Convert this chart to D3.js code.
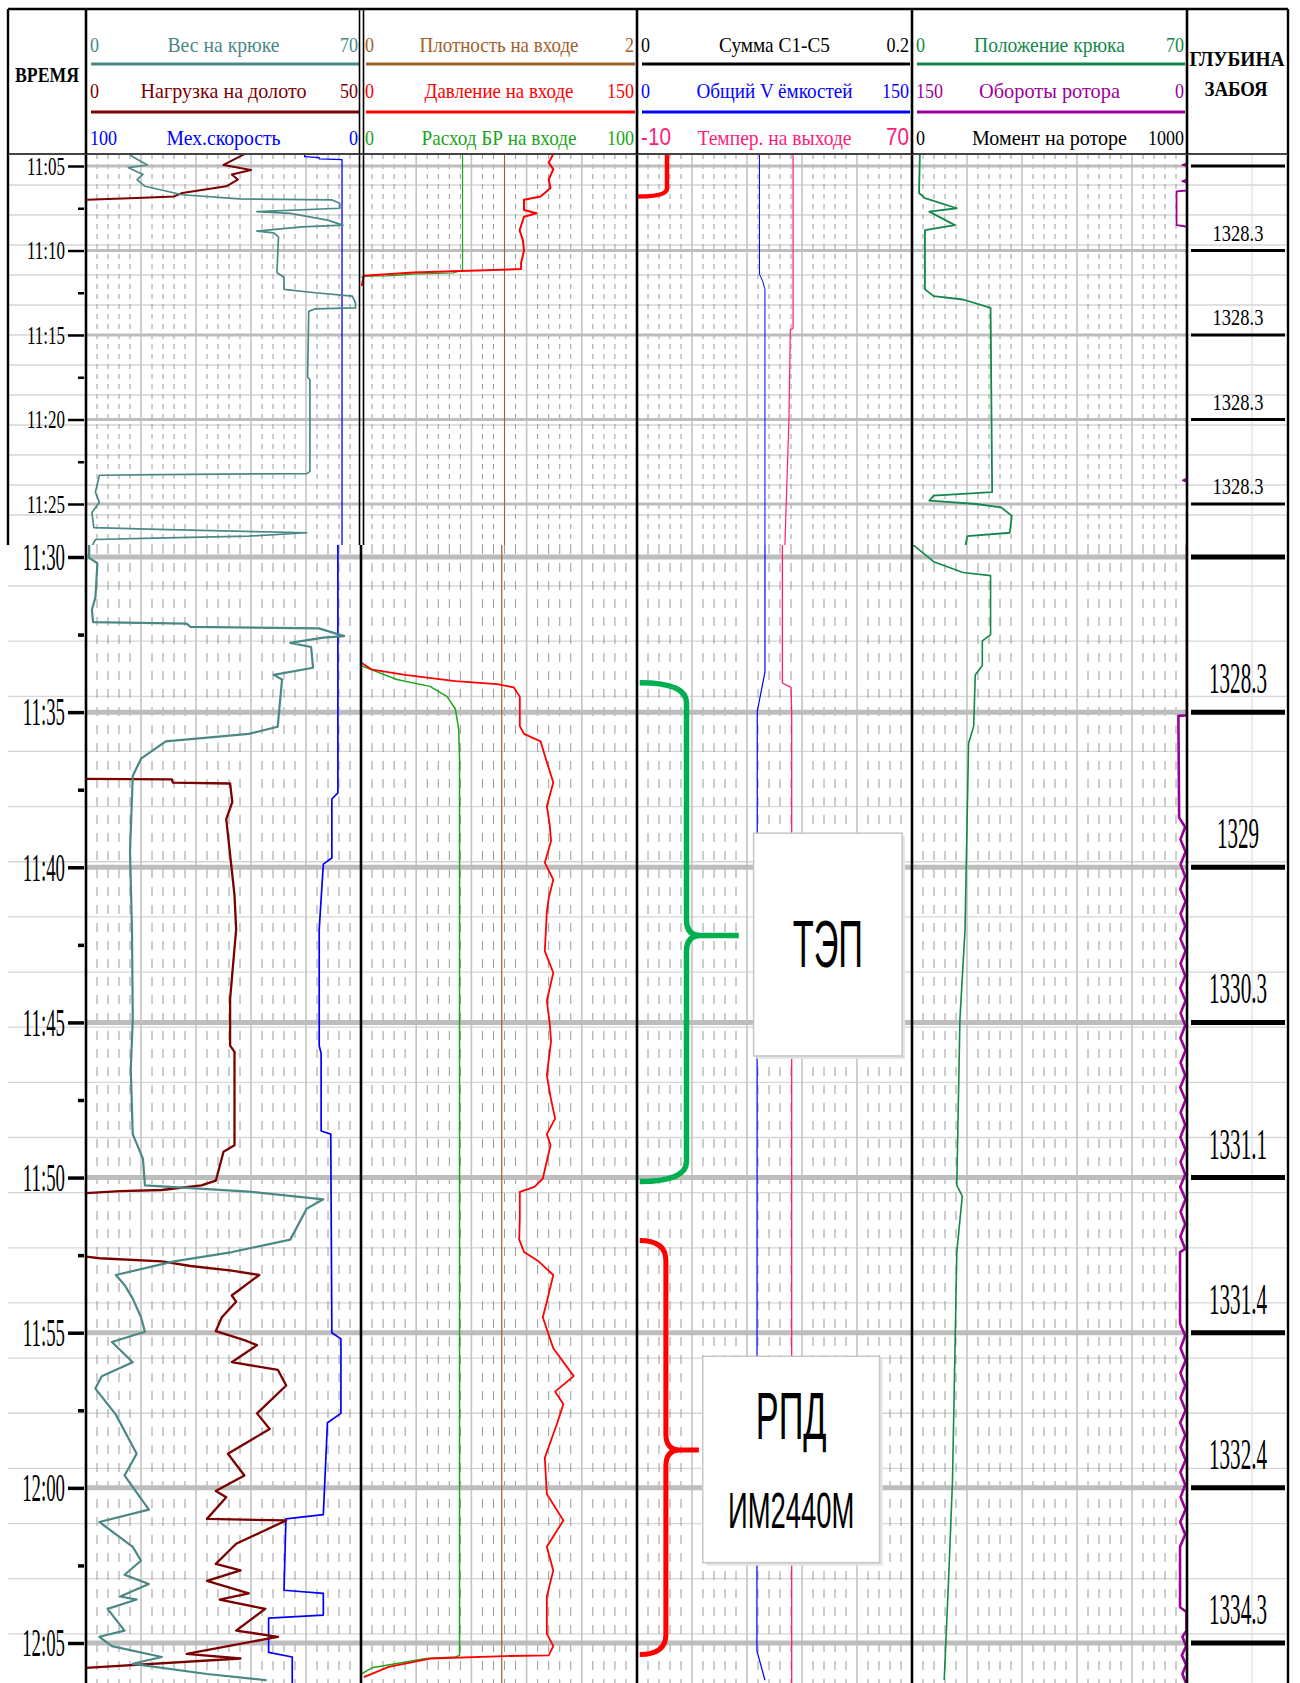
<!DOCTYPE html>
<html>
<head>
<meta charset="utf-8">
<script src="https://cdn.jsdelivr.net/npm/d3@7"></script>
<style>
  body { margin: 0; background: #fff; }
  svg { display: block; }
</style>
</head>
<body>
<script>
// ---- data: minutes after 11:00, value (null = gap) ----
const upperTimeLabels = ["11:05", "11:10", "11:15", "11:20", "11:25"];
const lowerTimeLabels = ["11:30", "11:35", "11:40", "11:45", "11:50", "11:55", "12:00", "12:05"];
const upperDepths = ["", "1328.3", "1328.3", "1328.3", "1328.3"];
const lowerDepths = ["", "1328.3", "1329", "1330.3", "1331.1", "1331.4", "1332.4", "1334.3"];

const headerNames = [
  ["Вес на крюке", "Нагрузка на долото", "Мех.скорость"],
  ["Плотность на входе", "Давление на входе", "Расход БР на входе"],
  ["Сумма C1-C5", "Общий V ёмкостей", "Темпер. на выходе"],
  ["Положение крюка", "Обороты ротора", "Момент на роторе"]
];
const headerMin = [["0", "0", "100"], ["0", "0", "0"], ["0", "0", "-10"], ["0", "150", "0"]];
const headerMax = [["70", "50", "0"], ["2", "150", "100"], ["0.2", "150", "70"], ["70", "0", "1000"]];

const vesNaKryuke = [[4.3,11],[4.47,12],[4.94,15.6],[5.1,10.8],[5.5,14.5],[5.8,13],[6.2,15],[6.7,24.5],[6.95,39],[7.0,62.5],[7.2,64.6],[7.5,64.6],[7.7,43.5],[7.8,52],[8.2,61.5],[8.5,65.4],[8.6,55],[8.85,43.5],[8.96,47.8],[9.2,49],[11.3,48.6],[11.6,50.4],[12.3,50.4],[12.5,58.3],[12.7,67.8],[13.1,68.6],[13.4,68.6],[13.45,58.3],[13.6,56.7],[17.5,56.4],[17.65,57],[23.07,57],[23.2,56.2],[23.26,18.2],[23.3,3.4],[24.3,2.4],[24.9,3.4],[25.5,1.5],[26.4,2],[26.5,18.2],[26.7,56.2],[26.9,41.4],[27.0,20.3],[27.1,2.4],[27.6,1.3],
  [29.5,0.8],[30.03,0.8],[30.2,2.9],[31.3,2.4],[31.7,1.5],[32.1,1.8],[32.15,25.6],[32.25,26.6],[32.3,59.3],[32.55,65.7],[32.6,60.4],[32.77,52],[32.9,57.3],[33.57,57.8],[33.8,47.8],[33.95,49.9],[35.47,48.8],[35.7,41.4],[35.94,20.3],[36.5,14],[37.06,11.9],[39.5,11.2],[42,11.7],[44.9,11.9],[46.5,11.4],[48.6,11.9],[49.4,14.5],[50.25,15],[50.45,41.4],[50.7,60.4],[51.0,56.2],[52.0,52],[52.4,37.2],[52.7,22.4],[53.14,7.6],[53.46,9.8],[53.9,11.9],[54.5,14],[54.97,15],[55.3,6.6],[55.95,11.9],[56.4,4],[56.8,2.4],[57.64,7.6],[58.9,12.9],[59.6,9.8],[60.7,16],[61.1,3.4],[61.9,11.9],[62.35,14],[62.8,9.8],[63.1,16],[63.5,8.7],[63.6,12.9],[63.9,5.5],[64.6,9.8],[64.8,3.4],[65.1,6.6],[65.45,19.3],[65.67,11.9],[66.0,30.8],[66.2,46]];

const nagruzkaNaDoloto = [[4.3,28.8],[4.94,25],[5.24,30],[5.5,26.5],[5.8,27.6],[6.2,25.5],[6.6,17.5],[6.8,16],[6.9,9.2],[7.0,0.2],[7.1,null],
  [37.15,0],[37.17,15.6],[37.27,15.8],[37.3,26.2],[37.9,26.6],[38.45,25.5],[40.9,27],[42,27.3],[44.25,26.2],[45.75,26.2],[45.95,27],[48.96,27],[49.17,25],[50.1,23.6],[50.25,21],[50.4,13.8],[50.44,6.2],[50.5,0],[50.55,null],
  [52.55,0],[52.6,2.5],[52.7,13.8],[52.85,19],[53.0,26.5],[53.14,31.5],[53.8,26.5],[54.0,27.3],[54.5,24.7],[54.95,23.6],[55.24,28.8],[55.4,31.1],[55.95,26.5],[56.2,34.9],[56.7,36.4],[57.6,31.1],[58.1,33.4],[58.9,25.8],[59.6,28.8],[60.1,23.6],[60.3,25.5],[61.0,22],[61.05,36.4],[61.8,27.3],[62.45,23.6],[62.66,28.1],[63.0,22],[63.4,29.6],[63.6,24.3],[63.9,32.6],[64.6,27.3],[64.8,34.9],[65.35,18.3],[65.5,28.1],[65.8,0]];

const mehSkorost = [[4.3,20.5],[4.45,20.5],[4.5,15.2],[4.58,15.2],[4.62,6.9],[27.6,6.9],[29.5,8.4],[37.6,8.4],[37.8,10.6],[39.7,10.6],[39.9,13.7],[42,15.2],[45.75,15.2],[46,14.5],[48.5,14.5],[48.6,11],[55.0,10.6],[55.2,7.3],[57.6,7.3],[57.9,12.2],[60.86,13.7],[61.0,27.3],[63.3,28],[63.4,13.7],[64.1,13.7],[64.2,33.6],[65.3,33.6],[65.45,25],[66.3,25]];

const plotnostNaVhode = [[4.3,1.04],[27.6,1.04],[29.5,1.02],[66.3,1.02]];

const davlenieNaVhode = [[4.3,104.5],[4.8,102],[5.2,104.5],[5.8,102],[6.3,103],[6.8,97.6],[7.0,88.6],[7.6,88.6],[7.8,95.4],[8.0,88.6],[8.8,86.2],[9.4,88],[10.0,88.6],[10.74,87],[11.1,87],[11.15,71.7],[11.3,28.7],[11.5,1.5],[12.1,0.4],[12.2,null],
  [33.4,0],[33.63,6],[33.8,24],[34.0,51.3],[34.1,73.9],[34.2,83],[34.5,86.3],[35.45,86.3],[35.7,88.6],[35.94,97.6],[36.4,99.9],[36.8,102],[37.27,104.5],[38.03,101],[38.6,102.5],[39.15,103.3],[39.85,99.9],[40.4,104.5],[41.0,102],[41.45,101],[42.7,99.9],[43.4,104.5],[44.3,101],[45.0,102.5],[45.6,103.3],[46.7,101],[47.4,103],[48.1,105.5],[48.6,101],[48.96,103],[50.03,98.8],[50.3,94.3],[50.46,86.3],[51.3,86.3],[52.0,86],[52.4,88.6],[52.7,96.5],[53.14,104.5],[54.0,101],[54.5,98.8],[55.5,104.5],[56.4,115.6],[56.9,105.5],[57.3,110],[57.9,106.7],[59.03,99.9],[60.2,101],[61.05,110],[61.9,101],[62.66,104.5],[63.5,101],[64.7,101],[65.1,104.5],[65.4,102],[65.42,78.5],[65.5,37.7],[65.77,15.1],[66.1,1.5]];

const rashodNaVhode = [[4.3,36.8],[11.15,36.8],[11.33,33.4],[11.4,19],[11.5,10],[11.52,1],[11.6,0],[11.7,null],
  [33.5,0],[33.95,13],[34.17,25],[34.5,31.2],[34.9,34.2],[35.55,35.4],[36.5,35.7],[65.4,35.7],[65.45,34.2],[65.5,23.6],[65.8,4],[66.0,0]];

const obshiyVEmkostey = [[4.3,66.8],[11.4,66.8],[11.8,68.5],[12.3,69.8],[27.6,69.8],[29.5,69.8],[33.7,69.8],[34.4,67.5],[34.97,65.6],[65.25,65.4],[66.2,69.8]];

const temperNaVyhode = [[4.3,35.4],[14.6,35.4],[14.7,34.6],[20,34.2],[27.6,33],[29.5,32.3],[34.06,32.3],[34.2,34.8],[35,35],[66.3,35]];

const polozhenieKryuka = [[4.3,2],[6.6,1.8],[6.9,3.3],[7.5,11.4],[7.7,4.4],[8.5,10.9],[8.8,3.3],[12.3,3.3],[12.7,5.5],[12.9,13],[13.4,20],[24.15,20.4],[24.3,20.4],[24.5,5.5],[24.8,4.4],[25.0,16.3],[25.2,22.7],[25.7,25.4],[26.7,24.9],[26.9,14.1],[27.6,13.5],
  [29.6,0.2],[30.15,5.5],[30.5,13],[30.6,20],[32.5,20],[32.7,17.9],[33.5,17.9],[33.8,16.1],[35.45,15.7],[36.0,14.4],[42,13.5],[44.9,12.2],[50.25,11.4],[50.6,12.8],[52.4,11.4],[54.5,11.1],[59.8,10.3],[63.0,9.3],[66.2,8.2]];

const oborotyRotora = [[4.3,0],[4.85,0],[4.94,2.5],[5.0,0],[5.8,0],[5.9,2.5],[6.0,0],[6.45,0],[6.5,5.7],[8.5,5.7],[8.55,2.2],[8.6,0],[23.5,0],[23.6,2.2],[23.7,0],[27.6,0],
  [29.5,0],[35.1,0],[35.12,4.7],[38.4,4.3],[38.7,1],[39.1,3.6],[39.5,0.8],[39.9,3.5],[40.3,1],[40.7,3.7],[41.1,0.8],[41.5,3.5],[41.9,1],[42.3,3.6],[42.7,0.8],[43.1,3.5],[43.5,1],[43.9,3.7],[44.3,0.8],[44.7,3.5],[45.1,1],[45.5,3.6],[45.9,0.8],[46.3,3.5],[46.7,1],[47.1,3.7],[47.5,0.8],[47.9,3.5],[48.3,1],[48.7,3.6],[49.1,0.8],[49.5,3.5],[49.9,1],[50.3,3.7],[50.7,0.8],[51.1,3.5],[51.5,1],[51.9,3.6],[52.3,1],[52.4,3.8],[54.7,3.8],
  [55.1,1],[55.5,3.5],[55.9,0.8],[56.3,3.6],[56.7,1],[57.1,3.5],[57.5,0.8],[57.9,3.7],[58.3,1],[58.7,3.5],[59.1,0.8],[59.5,3.6],[59.9,1],[60.3,3.5],[60.7,0.8],[61.1,3.7],[61.5,1],[61.9,3.8],[63.85,3.8],[64.0,0.3],[64.6,0.3],[64.8,2.5],[65.1,0.5],[65.4,2.8],[65.7,0.5],[66.0,2.5],[66.3,0.5]];

// annotations (minutes): start, cusp, end
const tepBracket = [34.05, 42.2, 50.13];
const rpdBracket = [52.03, 58.78, 65.37];
const rpdTailUpper = [3.5, 6.8];
const tepBox = [38.9, 46.08];
const rpdBox = [55.76, 62.41];

// ---- colours ----
const teal = "#4a8886", maroon = "#7b0000", blue = "#0000ff", brown = "#a0602a",
  red = "#ff0000", green = "#1aa51a", pink = "#ff1a7a", green2 = "#13884a", purple = "#9b009b";
const headerColors = [[teal, maroon, blue], [brown, red, green], ["#000", blue, pink], [green2, purple, "#000"]];
const headerWidths = [[112, 166, 114], [159, 149, 155], [111, 156, 154], [151, 141, 155]];

const series = [
  {data: plotnostNaVhode, track: 1, domain: [0, 2], color: brown, w: [1.1, 1.2]},
  {data: rashodNaVhode, track: 1, domain: [0, 100], color: green, w: [1.2, 1.5]},
  {data: davlenieNaVhode, track: 1, domain: [0, 150], color: red, w: [2, 1.8]},
  {data: mehSkorost, track: 0, domain: [100, 0], color: blue, w: [1.3, 1.7]},
  {data: nagruzkaNaDoloto, track: 0, domain: [0, 50], color: maroon, w: [2, 2.3]},
  {data: vesNaKryuke, track: 0, domain: [0, 70], color: teal, w: [1.7, 2.2]},
  {data: obshiyVEmkostey, track: 2, domain: [0, 150], color: blue, w: [1, 1.2]},
  {data: temperNaVyhode, track: 2, domain: [-10, 70], color: pink, w: [1.2, 1.3]},
  {data: polozhenieKryuka, track: 3, domain: [0, 70], color: green2, w: [1.8, 1.6]},
  {data: oborotyRotora, track: 3, domain: [150, 0], color: purple, w: [1.8, 2.6]}
];

// ---- layout ----
const W = 1300, H = 1683;
const edges = [86, 361, 637, 912, 1187];
const leftX = 8, rightX = 1288;
const headTop = 9, headBot = 154, split = 545;
const serif = "'Liberation Serif', 'DejaVu Serif', serif";
const sans = "'Liberation Sans', Arial, sans-serif";

const minutes = s => { const [h, m] = s.split(":").map(Number); return (h - 11) * 60 + m; };

// horizontal squeeze through a transform, so the box stays where the glyphs are
function squeeze(sel, k) {
  sel.each(function () {
    const t = d3.select(this);
    const x = +t.attr("x") || 0, y = +t.attr("y") || 0;
    t.attr("x", 0).attr("y", 0).attr("transform", `translate(${x},${y}) scale(${k},1)`);
  });
}

const svg = d3.select("body").append("svg").attr("width", W).attr("height", H)
  .style("font-family", serif);
const defs = svg.append("defs");

const panels = [
  {id: "lo", top: split, bot: H, y: d3.scaleLinear().domain([30, 65]).range([557, 1643]),
   labels: lowerTimeLabels, depths: lowerDepths, dash: "9,9", gridW: 5, depthW: 5,
   tf: 40, tk: 0.47, df: 44, dk: 0.48, dOff: 19, rows: d3.range(586, H, 55.15), si: 1},
  {id: "up", top: headBot, bot: split, y: d3.scaleLinear().domain([5, 25]).range([166, 504]),
   labels: upperTimeLabels, depths: upperDepths, dash: "5,5", gridW: 3, depthW: 3,
   tf: 25, tk: 0.68, df: 24, dk: 0.77, dOff: 10, rows: d3.range(185, split, 30), si: 0}
];

const t3 = d3.scaleLinear().domain([0, 1]).range([edges[2], edges[3]]);

function bracePath(x0, xv, xTip, yA, yM, yB) {
  const r = 20, r2 = 16;
  return `M${x0},${yA} Q${xv},${yA} ${xv},${yA + r} L${xv},${yM - r2} Q${xv},${yM} ${xv + 14},${yM} L${xTip},${yM}` +
    ` M${xv + 14},${yM} Q${xv},${yM} ${xv},${yM + r2} L${xv},${yB - r} Q${xv},${yB} ${x0},${yB}`;
}

function box(g, y, span, f0, f1, lines) {
  const x0 = t3(f0), x1 = t3(f1), y0 = y(span[0]), y1 = y(span[1]);
  g.append("rect").attr("x", x0 + 3).attr("y", y0 + 3).attr("width", x1 - x0).attr("height", y1 - y0)
    .attr("fill", "#e4e4e4");
  g.append("rect").attr("x", x0).attr("y", y0).attr("width", x1 - x0).attr("height", y1 - y0)
    .attr("fill", "#fff").attr("stroke", "#c6c6c6").attr("stroke-width", 1.5);
  lines.forEach(l => {
    g.append("text").attr("x", (x0 + x1) / 2).attr("y", y0 + (y1 - y0) * l.at)
      .attr("text-anchor", "middle").attr("font-family", sans).attr("font-size", l.size)
      .text(l.text).call(squeeze, l.k);
  });
}

panels.forEach(p => {
  const g = svg.append("g");
  defs.append("clipPath").attr("id", "clip-" + p.id).append("rect")
    .attr("x", edges[0]).attr("y", p.top).attr("width", edges[4] - edges[0]).attr("height", p.bot - p.top);

  g.append("rect").attr("x", 0).attr("y", p.top).attr("width", W).attr("height", p.bot - p.top).attr("fill", "#fff");

  // spreadsheet rows
  g.selectAll(".row").data(p.rows).join("line")
    .attr("x1", leftX).attr("x2", rightX).attr("y1", d => d).attr("y2", d => d)
    .attr("stroke", "#d6d6d6").attr("stroke-width", 1.3);
  g.append("line").attr("x1", 1252).attr("x2", 1252).attr("y1", p.top).attr("y2", p.bot)
    .attr("stroke", "#dcdcdc").attr("stroke-width", 1.2);

  // track grids
  for (let i = 0; i < 4; i++) {
    const gx = d3.scaleLinear().domain([0, 25]).range([edges[i], edges[i + 1]]);
    const ks = d3.range(1, 25);
    g.selectAll(null).data(ks).join("line")
      .attr("x1", d => gx(d)).attr("x2", d => gx(d)).attr("y1", p.top).attr("y2", p.bot)
      .attr("stroke", d => d % 5 ? "#9a9a9a" : "#c4c4c4")
      .attr("stroke-width", d => d % 5 ? 1 : 1.6)
      .attr("stroke-dasharray", d => d % 5 ? p.dash : null);
  }

  const times = p.labels.map(minutes);
  g.selectAll(null).data(times).join("line")
    .attr("x1", edges[0]).attr("x2", edges[4]).attr("y1", d => p.y(d)).attr("y2", d => p.y(d))
    .attr("stroke", "#bdbdbd").attr("stroke-width", p.gridW);

  // curves
  const cg = g.append("g").attr("clip-path", `url(#clip-${p.id})`);
  series.forEach(s => {
    const x = d3.scaleLinear().domain(s.domain).range([edges[s.track], edges[s.track + 1]]);
    const line = d3.line().defined(d => d[1] != null).x(d => x(d[1])).y(d => p.y(d[0]));
    cg.append("path").attr("d", line(s.data)).attr("fill", "none")
      .attr("stroke", s.color).attr("stroke-width", s.w[p.si]).attr("stroke-linejoin", "round");
  });

  // annotations
  if (p.id === "lo") {
    const y = p.y;
    cg.append("path").attr("d", bracePath(t3(0.01), t3(0.18), t3(0.37), y(tepBracket[0]), y(tepBracket[1]), y(tepBracket[2])))
      .attr("fill", "none").attr("stroke", "#00b050").attr("stroke-width", 5.5);
    cg.append("path").attr("d", bracePath(t3(0.01), t3(0.105), t3(0.225), y(rpdBracket[0]), y(rpdBracket[1]), y(rpdBracket[2])))
      .attr("fill", "none").attr("stroke", red).attr("stroke-width", 5);
    box(cg, y, tepBox, 0.424, 0.964, [{text: "ТЭП", size: 66, k: 0.52, at: 0.6}]);
    box(cg, y, rpdBox, 0.239, 0.882, [{text: "РПД", size: 66, k: 0.52, at: 0.4}, {text: "ИМ2440М", size: 49, k: 0.56, at: 0.83}]);
  } else {
    const y = p.y, xv = t3(0.109), x0 = t3(0.004), yB = y(rpdTailUpper[1]);
    cg.append("path").attr("d", `M${xv},${y(rpdTailUpper[0])} L${xv},${yB - 8} Q${xv},${yB} ${x0},${yB}`)
      .attr("fill", "none").attr("stroke", red).attr("stroke-width", 4.5);
  }

  // borders
  edges.forEach((e, i) => {
    if (i === 1 && p.id === "up") {
      [e - 1.5, e + 2.5].forEach(xx => g.append("line").attr("x1", xx).attr("x2", xx)
        .attr("y1", p.top).attr("y2", p.bot).attr("stroke", "#000").attr("stroke-width", 1.6));
    } else {
      g.append("line").attr("x1", e).attr("x2", e).attr("y1", p.top).attr("y2", p.bot)
        .attr("stroke", "#000").attr("stroke-width", 2.6);
    }
  });
  g.append("line").attr("x1", rightX).attr("x2", rightX).attr("y1", p.top).attr("y2", p.bot)
    .attr("stroke", "#000").attr("stroke-width", 2.4);
  if (p.id === "up") {
    g.append("line").attr("x1", leftX).attr("x2", leftX).attr("y1", p.top).attr("y2", p.bot)
      .attr("stroke", "#000").attr("stroke-width", 2.4);
  }

  // time axis
  const ax = g.append("g").attr("transform", `translate(${edges[0] - 2},0)`)
    .call(d3.axisLeft(p.y).tickValues(times).tickFormat((d, i) => p.labels[i]).tickSize(16).tickPadding(3));
  ax.select(".domain").remove();
  ax.selectAll("line").attr("stroke", "#000").attr("stroke-width", p.id === "lo" ? 3.5 : 2.5);
  ax.selectAll("text").attr("font-family", serif).attr("font-size", p.tf).attr("fill", "#000").call(squeeze, p.tk);
  const minor = times.map(t => t + 2.5).filter(t => p.y(t) < p.bot - 3);
  const ax2 = g.append("g").attr("transform", `translate(${edges[0] - 2},0)`)
    .call(d3.axisLeft(p.y).tickValues(minor).tickFormat("").tickSize(6));
  ax2.select(".domain").remove();
  ax2.selectAll("line").attr("stroke", "#000").attr("stroke-width", p.id === "lo" ? 3.5 : 2.5);

  // depth column
  g.selectAll(null).data(times).join("line")
    .attr("x1", 1191).attr("x2", 1285).attr("y1", d => p.y(d)).attr("y2", d => p.y(d))
    .attr("stroke", "#000").attr("stroke-width", p.depthW);
  g.selectAll(null).data(times.filter((d, i) => p.depths[i] !== "")).join("text")
    .attr("x", 1238).attr("y", d => p.y(d) - p.dOff).attr("text-anchor", "middle")
    .attr("font-size", p.df).text(d => p.depths[times.indexOf(d)])
    .call(squeeze, p.dk);
});

// ---- header ----
const hg = svg.append("g");
hg.append("rect").attr("x", 0).attr("y", 0).attr("width", W).attr("height", headBot).attr("fill", "#fff");
const rowBase = [52, 98, 145], rowLine = [64, 112];
headerNames.forEach((names, i) => {
  const L = edges[i], R = edges[i + 1], cx = (L + R) / 2;
  names.forEach((n, r) => {
    const c = headerColors[i][r];
    hg.append("text").attr("x", cx).attr("y", rowBase[r]).attr("text-anchor", "middle")
      .attr("font-size", 22).attr("fill", c)
      .attr("textLength", headerWidths[i][r]).attr("lengthAdjust", "spacingAndGlyphs").text(n);
    const isSans = i === 2 && r === 2;
    hg.append("text").attr("x", L + 4).attr("y", rowBase[r]).attr("font-size", isSans ? 23 : 22)
      .attr("font-family", isSans ? sans : serif).attr("fill", c).text(headerMin[i][r]).call(squeeze, isSans ? 0.9 : 0.82);
    hg.append("text").attr("x", R - 3).attr("y", rowBase[r]).attr("text-anchor", "end").attr("font-size", isSans ? 23 : 22)
      .attr("font-family", isSans ? sans : serif).attr("fill", c).text(headerMax[i][r]).call(squeeze, isSans ? 0.9 : 0.82);
    if (r < 2) {
      hg.append("line").attr("x1", L + 5).attr("x2", R - 2).attr("y1", rowLine[r]).attr("y2", rowLine[r])
        .attr("stroke", c).attr("stroke-width", 3);
    }
  });
});
hg.append("text").attr("x", 47).attr("y", 82).attr("text-anchor", "middle").attr("font-weight", "bold")
  .attr("font-size", 21).attr("textLength", 64).attr("lengthAdjust", "spacingAndGlyphs").text("ВРЕМЯ");
hg.append("text").attr("x", 1237).attr("y", 66).attr("text-anchor", "middle").attr("font-weight", "bold")
  .attr("font-size", 21).attr("textLength", 95).attr("lengthAdjust", "spacingAndGlyphs").text("ГЛУБИНА");
hg.append("text").attr("x", 1236).attr("y", 96).attr("text-anchor", "middle").attr("font-weight", "bold")
  .attr("font-size", 21).attr("textLength", 63).attr("lengthAdjust", "spacingAndGlyphs").text("ЗАБОЯ");

// header frame
hg.append("line").attr("x1", leftX).attr("x2", rightX).attr("y1", headTop).attr("y2", headTop)
  .attr("stroke", "#000").attr("stroke-width", 2.6);
hg.append("line").attr("x1", leftX).attr("x2", rightX).attr("y1", headBot).attr("y2", headBot)
  .attr("stroke", "#444").attr("stroke-width", 2.2);
[leftX, rightX].forEach(x => hg.append("line").attr("x1", x).attr("x2", x).attr("y1", headTop).attr("y2", headBot)
  .attr("stroke", "#000").attr("stroke-width", 2.4));
edges.forEach((e, i) => {
  if (i === 1) {
    [e - 1.5, e + 2.5].forEach(xx => hg.append("line").attr("x1", xx).attr("x2", xx)
      .attr("y1", headTop).attr("y2", headBot).attr("stroke", "#000").attr("stroke-width", 1.6));
  } else {
    hg.append("line").attr("x1", e).attr("x2", e).attr("y1", headTop).attr("y2", headBot)
      .attr("stroke", "#000").attr("stroke-width", 2.6);
  }
});
</script>
</body>
</html>
